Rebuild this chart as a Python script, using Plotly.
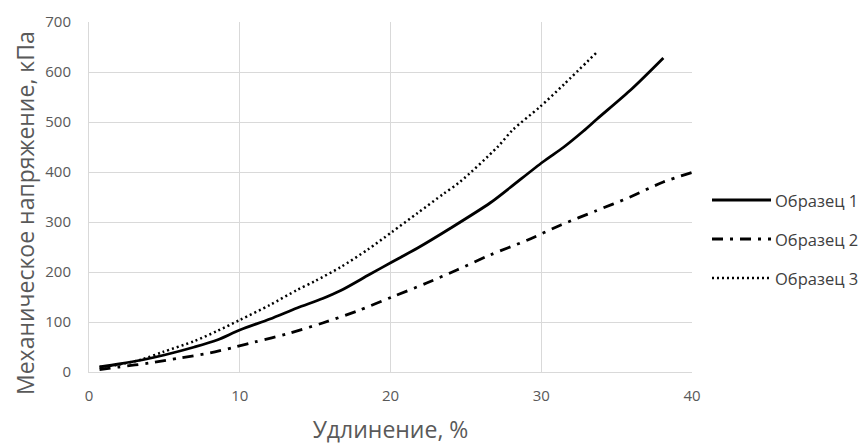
import plotly.graph_objects as go

# Elongation (%) and mechanical stress (kPa) for three samples
names = ["Образец 1", "Образец 2", "Образец 3"]

x1 = [0.7, 2, 3.5, 5, 7, 8.5, 10, 12, 13.8, 15.5, 16.7, 18.6, 20.1, 21.8, 24,
      26.6, 27.9, 30.1, 31.5, 32.8, 33.7, 36, 38.1]
y1 = [10, 16, 24, 34, 50, 64, 84, 106, 128, 147, 163, 195, 220, 248, 288,
      338, 368, 420, 450, 482, 506, 566, 628]

x2 = [0.7, 2, 4, 6, 8, 9.7, 11, 13.1, 15.5, 17.8, 20.1, 22.4, 24.4, 26.6,
      29.1, 31.3, 33.6, 35.9, 38.1, 40.1]
y2 = [5, 10, 18, 28, 38, 50, 60, 76, 98, 122, 150, 178, 204, 234,
      264, 294, 322, 350, 380, 400]

x3 = [0.7, 2, 3.5, 4.9, 7, 8.5, 10, 12, 13.8, 15, 16.7, 18.5, 20.1, 21.8,
      23.5, 24.6, 27.1, 28.1, 29.9, 31.5, 33.7]
y3 = [10, 15, 25, 40, 62, 82, 104, 134, 164, 182, 210, 245, 280, 318,
      356, 380, 450, 484, 530, 575, 640]

x_ticks = [0, 10, 20, 30, 40]
y_ticks = [0, 100, 200, 300, 400, 500, 600, 700]

styles = [
    dict(color="black", width=2.8, dash="solid"),
    dict(color="black", width=2.8, dash="11px,7px,3px,7px"),
    dict(color="black", width=2.5, dash="2px,3px"),
]

FONT = "Open Sans"
L, R, T, B = 89, 172, 22, 73
W, H = 864, 445
PW, PH = W - L - R, H - T - B


def px(xp):
    return (xp - L) / PW


def py(yp):
    return (H - B - yp) / PH


fig = go.Figure()
for name, xs, ys, st in zip(names, [x1, x2, x3], [y1, y2, y3], styles):
    fig.add_trace(go.Scatter(x=xs, y=ys, mode="lines", name=name,
                             line=dict(shape="spline", smoothing=0.8, **st),
                             showlegend=False))

# Legend drawn at the right of the plot area
leg_y = [200, 239, 278]
for name, st, yy in zip(names, styles, leg_y):
    fig.add_shape(type="line", xref="paper", yref="paper",
                  x0=px(712), x1=px(771), y0=py(yy), y1=py(yy), line=st)
    fig.add_annotation(text=name, xref="paper", yref="paper",
                       x=px(773), y=py(yy),
                       xanchor="left", yanchor="middle", showarrow=False,
                       font=dict(family=FONT, size=16.5, color="#404040"))

# Vertical axis title
fig.add_annotation(text="Механическое напряжение, кПа", xref="paper",
                   yref="paper", x=px(25), y=py(213), textangle=-90,
                   xanchor="center", yanchor="middle", showarrow=False,
                   font=dict(family=FONT, size=23, color="#595959"))

axis_common = dict(showgrid=True, gridcolor="#d9d9d9", gridwidth=1,
                   showline=True, linecolor="#d9d9d9", linewidth=1,
                   zeroline=False, ticks="", automargin=False,
                   tickfont=dict(family=FONT, size=15, color="#595959"))

fig.update_xaxes(range=[0, 40], tickvals=x_ticks, ticklabelstandoff=10,
                 title=dict(text="Удлинение, %", standoff=22,
                            font=dict(family=FONT, size=23, color="#595959")),
                 **axis_common)
fig.update_yaxes(range=[0, 700], tickvals=y_ticks, ticklabelstandoff=14,
                 **axis_common)

fig.update_layout(width=W, height=H,
                  margin=dict(l=L, r=R, t=T, b=B),
                  plot_bgcolor="white", paper_bgcolor="white",
                  font=dict(family=FONT))

fig.write_html("out.html")
